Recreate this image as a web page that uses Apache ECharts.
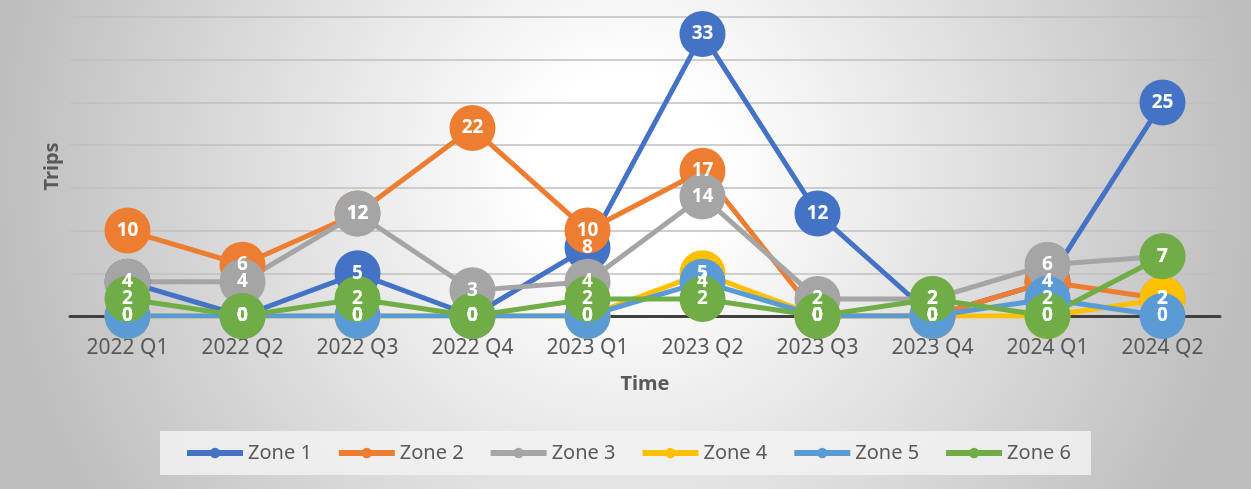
<!DOCTYPE html>
<html>
<head>
<meta charset="utf-8">
<script src="https://cdn.jsdelivr.net/npm/echarts@6/dist/echarts.min.js"></script>
<style>
  html, body { margin: 0; padding: 0; }
  #chart { width: 1251px; height: 489px; }
</style>
</head>
<body>
<div id="chart"></div>
<script>
const quarters = ['2022 Q1', '2022 Q2', '2022 Q3', '2022 Q4', '2023 Q1', '2023 Q2', '2023 Q3', '2023 Q4', '2024 Q1', '2024 Q2']

const zone1 = [4, 0, 5, 0, 8, 33, 12, 0, 4, 25]
const zone2 = [10, 6, 12, 22, 10, 17, 0, 0, 4, 2]
const zone3 = [4, 4, 12, 3, 4, 14, 2, 2, 6, 7]
const zone4 = [0, 0, 0, 0, 0, 5, 0, 0, 0, 2]
const zone5 = [0, 0, 0, 0, 0, 4, 0, 0, 2, 0]
const zone6 = [2, 0, 2, 0, 2, 2, 0, 2, 0, 7]

const zoneNames = ['Zone 1', 'Zone 2', 'Zone 3', 'Zone 4', 'Zone 5', 'Zone 6']
const zoneData = [zone1, zone2, zone3, zone4, zone5, zone6]
const colors = ['#4472C4', '#ED7D31', '#A5A5A5', '#FFC000', '#5B9BD5', '#70AD47']

const font = '"Noto Sans", "Open Sans", sans-serif'

const chart = echarts.init(document.getElementById('chart'))

const series = zoneNames.map((name, i) => ({
  name: name,
  type: 'line',
  data: zoneData[i],
  symbol: 'circle',
  symbolSize: 46,
  lineStyle: { width: 5, color: colors[i] },
  itemStyle: { color: colors[i] },
  label: {
    show: true,
    position: 'inside',
    color: '#fff',
    fontFamily: font,
    fontWeight: 'bold',
    fontSize: 19,
  },
  emphasis: { disabled: true },
}))

const option = {
  backgroundColor: {
    type: 'radial',
    x: 0.5,
    y: 0.35,
    r: 1.3,
    colorStops: [
      { offset: 0, color: '#ffffff' },
      { offset: 0.15, color: '#ffffff' },
      { offset: 1, color: '#bdbdbd' },
    ],
  },
  color: colors,
  animation: false,
  grid: {
    left: 70,
    right: 31,
    top: 17,
    bottom: 173,
  },
  legend: {
    data: zoneNames,
    left: 160,
    top: 431,
    backgroundColor: 'rgba(242, 242, 242, 0.85)',
    padding: [12, 20, 12, 24],
    itemWidth: 56,
    itemHeight: 13,
    itemGap: 24,
    lineStyle: { width: 6 },
    textStyle: { color: '#595959', fontFamily: font, fontSize: 20 },
  },
  xAxis: {
    type: 'category',
    data: quarters,
    boundaryGap: true,
    name: 'Time',
    nameLocation: 'middle',
    nameGap: 58,
    nameTextStyle: { color: '#595959', fontFamily: font, fontWeight: 'bold', fontSize: 20 },
    axisLine: { lineStyle: { color: '#404040', width: 3 } },
    axisTick: { show: false },
    axisLabel: { color: '#595959', fontFamily: font, fontSize: 21, margin: 22 },
  },
  yAxis: {
    type: 'value',
    min: 0,
    max: 35,
    interval: 5,
    name: 'Trips',
    nameLocation: 'middle',
    nameGap: 8,
    nameTextStyle: { color: '#595959', fontFamily: font, fontWeight: 'bold', fontSize: 20 },
    axisLabel: { show: false },
    axisLine: { show: false },
    axisTick: { show: false },
    splitLine: { lineStyle: { color: '#bfbfbf', width: 1.5 } },
  },
  series: series,
}

chart.setOption(option)
</script>
</body>
</html>
